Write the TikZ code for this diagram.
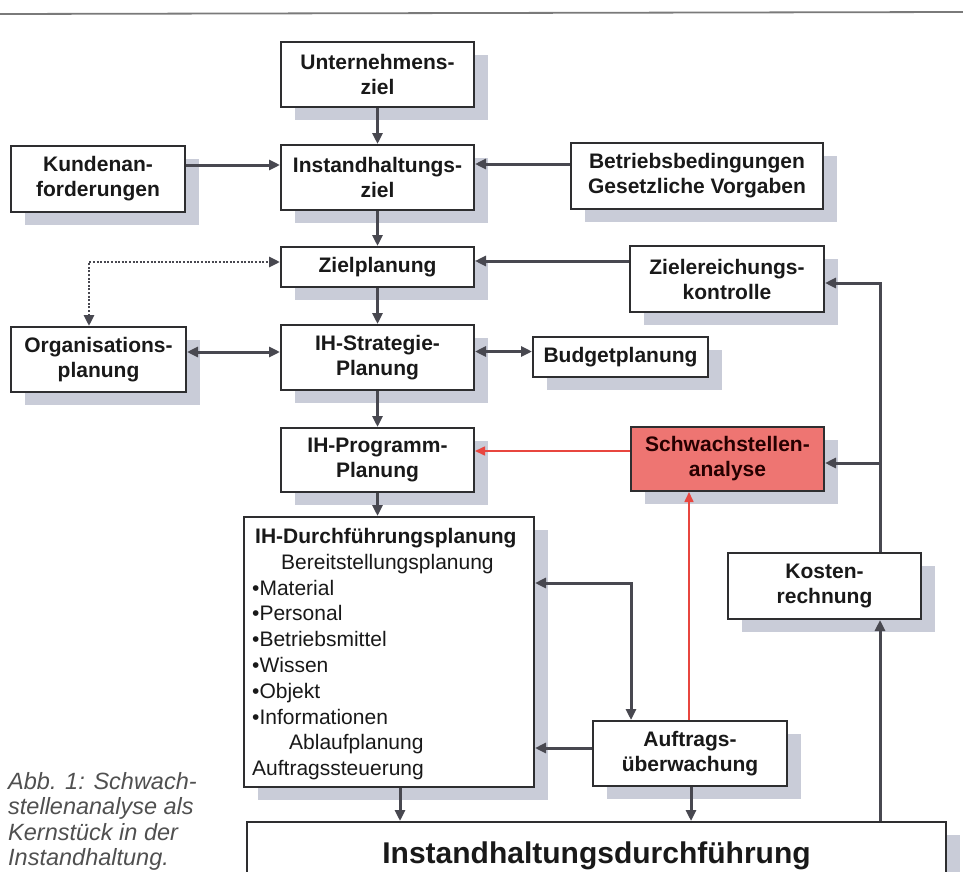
\documentclass[tikz,border=0pt]{standalone}
\usepackage{fontspec}
\setmainfont{Liberation Sans}
\usetikzlibrary{arrows.meta,shadows}
\definecolor{boxc}{HTML}{2E2E30}
\definecolor{arrc}{HTML}{484850}
\definecolor{shadowc}{HTML}{C9CCD8}
\definecolor{redline}{HTML}{E8463F}
\definecolor{redfill}{HTML}{EE7572}
\definecolor{capc}{HTML}{505050}
\definecolor{topc}{HTML}{7A7A7A}
\begin{document}
\begin{tikzpicture}[x=1pt,y=-1pt,
  box/.style={draw=boxc, line width=2pt, fill=white, align=center,
    inner sep=0pt, font=\fontsize{21}{25}\selectfont\bfseries, text=black!90,
    drop shadow={shadow xshift=14pt, shadow yshift=-13pt, fill=shadowc, opacity=1}},
  arr/.style={draw=arrc, line width=3pt, -{Triangle[length=11pt,width=10pt]}},
  dblarr/.style={draw=arrc, line width=3pt, {Triangle[length=11pt,width=10pt]}-{Triangle[length=11pt,width=10pt]}},
  dotarr/.style={draw=arrc, line width=2.8pt, dash pattern=on 2pt off 1.6pt, {Triangle[length=11pt,width=10pt]}-{Triangle[length=11pt,width=10pt]}},
  redarr/.style={draw=redline, line width=1.6pt, -{Triangle[length=10pt,width=9pt]}},
]
\useasboundingbox (0,0) rectangle (963,872);
\clip (0,0) rectangle (963,872);
\fill[white] (0,0) rectangle (963,872);
\draw[topc, line width=1.8pt] (0,14) -- (963,12);

% nodes
\node[box, minimum width=193pt, minimum height=65pt] (U) at (377.5,74.5) {Unternehmens-\\ziel};
\node[box, minimum width=174pt, minimum height=66pt] (K) at (98,179) {Kundenan-\\forderungen};
\node[box, minimum width=193pt, minimum height=65pt] (I) at (377.5,177.5) {Instandhaltungs-\\ziel};
\node[box, minimum width=252pt, minimum height=66pt] (B) at (697,176) {Betriebsbedingungen\\Gesetzliche Vorgaben};
\node[box, minimum width=193pt, minimum height=40pt] (Z) at (377.5,267) {Zielplanung};
\node[box, minimum width=194pt, minimum height=66pt] (ZK) at (727,279) {Zielereichungs-\\kontrolle};
\node[box, minimum width=175pt, minimum height=65pt] (O) at (98.5,359.5) {Organisations-\\planung};
\node[box, minimum width=193pt, minimum height=65pt] (S) at (377.5,357.5) {IH-Strategie-\\Planung};
\node[box, minimum width=175pt, minimum height=40pt] (BP) at (620.5,357) {Budgetplanung};
\node[box, minimum width=193pt, minimum height=64pt] (P) at (377.5,460) {IH-Programm-\\Planung};
\node[box, fill=redfill, text=black!85!red, minimum width=193pt, minimum height=64pt] (SA) at (727.5,459) {Schwachstellen-\\analyse};
\node[box, minimum width=290pt, minimum height=270pt] (D) at (389,652) {};
\node[anchor=north west, inner sep=0pt, align=left, font=\fontsize{21}{25.8}\selectfont, text=black!90] (DT) at (252,528)
 {\hspace*{3pt}\textbf{IH-Durchführungsplanung}\\
  \hspace*{29pt}Bereitstellungsplanung\\
  •Material\\
  •Personal\\
  •Betriebsmittel\\
  •Wissen\\
  •Objekt\\
  •Informationen\\
  \hspace*{37pt}Ablaufplanung\\
  Auftragssteuerung};
\node[box, minimum width=193pt, minimum height=66pt] (KR) at (824.5,586) {Kosten-\\rechnung};
\node[box, minimum width=194pt, minimum height=65pt] (A) at (690,753.5) {Auftrags-\\überwachung};
\node[box, drop shadow={opacity=0}, minimum width=699pt, minimum height=68pt, font=\fontsize{30}{36}\selectfont\bfseries] (IHD) at (596.5,856) {Instandhaltungsdurchführung};

\node[anchor=north west, inner sep=0pt, align=left, text=capc,
  font=\fontsize{23.5}{25.5}\selectfont\itshape] (CAP) at (8,772)
  {Abb. 1: Schwach-\\stellenanalyse als\\Kernstück in der\\Instandhaltung.};

% helper coordinates
\coordinate (kb) at ([xshift=55.5pt]KR.south);
\coordinate (kt) at ([xshift=55.5pt]KR.north);
\coordinate (zke) at ([yshift=-4pt]ZK.east);
\coordinate (sae) at ([yshift=-4pt]SA.east);
\coordinate (an) at ([xshift=-1pt]A.north);
\coordinate (al) at ([xshift=-59pt]A.north);
\coordinate (de) at ([yshift=69pt]D.east);
\coordinate (ds) at ([xshift=11pt]D.south);
\coordinate (as) at ([xshift=1pt]A.south);

% connectors
\draw[arr] (U) -- (I);
\draw[arr] ([yshift=14pt]K.east) -- ([yshift=14pt]K.east -| I.west);
\draw[arr] ([yshift=12pt]B.west) -- ([yshift=12pt]B.west -| I.east);
\draw[arr] (I) -- (Z);
\draw[arr] ([yshift=18pt]ZK.west) -- ([yshift=18pt]ZK.west -| Z.east);
\draw[dotarr] ([xshift=-9.5pt]O.north) |- ([yshift=5pt]Z.west);
\draw[arr] (Z) -- (S);
\draw[dblarr] ([yshift=7.5pt]O.east) -- ([yshift=7.5pt]O.east -| S.west);
\draw[dblarr] ([yshift=6pt]S.east -| BP.west) -- ([yshift=6pt]S.east);
\draw[arr] (S) -- (P);
\draw[redarr] ([yshift=8pt]SA.west) -- ([yshift=8pt]SA.west -| P.east);
\draw[arr] (P.south) -- (P.south |- D.north);
\draw[arr] (ds) -- (ds |- IHD.north);
\draw[arr] (as) -- (as |- IHD.north);
\draw[arr] (kb |- IHD.north) -- (kb);
\draw[arr] (kt) |- (zke);
\draw[arr] (kt |- sae) -- (sae);
\draw[dblarr] (de) -| (al);
\draw[arr] ([yshift=5.5pt]A.west) -- ([yshift=5.5pt]A.west -| D.east);
\draw[redarr] (an) -- (an |- SA.south);
\end{tikzpicture}
\end{document}
